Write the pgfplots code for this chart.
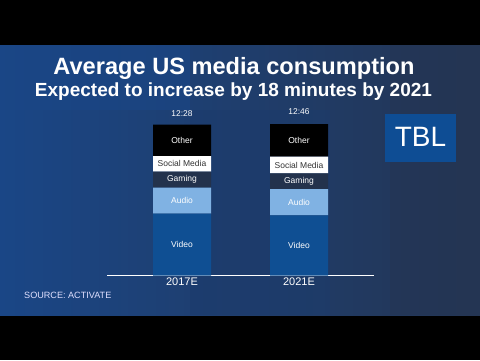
\documentclass[border=0pt]{standalone}
\usepackage{pgfplots}
\pgfplotsset{compat=1.18}
\usepackage{fontspec}
\setmainfont{Liberation Sans}
\definecolor{bgbase}{HTML}{1C3B6C}
\definecolor{bgleft}{HTML}{1A4686}
\definecolor{bgright}{HTML}{243553}
\definecolor{videoc}{HTML}{0F4F93}
\definecolor{audioc}{HTML}{80B2E3}
\definecolor{gamingc}{HTML}{23324C}
\definecolor{tblc}{HTML}{0E4D94}
\definecolor{socialtext}{HTML}{333333}
\begin{document}
\begin{tikzpicture}[x=1pt,y=1pt]
\useasboundingbox (0,0) rectangle (480,360);
\fill[black] (0,0) rectangle (480,360);
\shade[left color=bgleft, right color=bgright] (0,45) rectangle (480,315);
\fill[bgleft, opacity=0.6] (12,250) rectangle (190,315);
\fill[bgbase, opacity=0.5] (190,45) rectangle (330,250);
\fill[bgright, opacity=0.5] (390,45) rectangle (480,315);
% title
\node[anchor=base, text=white, font=\bfseries\fontsize{23.6}{28}\selectfont] at (234,286) {Average US media consumption};
\node[anchor=base, text=white, font=\bfseries\fontsize{19}{23}\selectfont] at (233.5,263.3) {Expected to increase by 18 minutes by 2021};
% TBL box
\fill[tblc] (385,198.3) rectangle (456,246);
\node[anchor=base, text=white, font=\fontsize{28}{32}\selectfont] at (420.5,213.3) {TBL};
% source
\node[anchor=base west, inner sep=0pt, text=white!88!blue, font=\fontsize{9.1}{11}\selectfont] at (24,61.7) {SOURCE: ACTIVATE};
\begin{axis}[
  at={(107pt,84.5pt)}, anchor=south west,
  scale only axis, width=267pt, height=160pt,
  xmin=-0.641, xmax=1.641, ymin=0, ymax=160,
  ybar stacked, bar width=58pt,
  axis x line*=bottom, axis y line=none,
  x axis line style={white, line width=1.8pt},
  xtick={0,1}, xticklabels={2017E,2021E},
  xtick style={draw=none},
  xticklabel style={text=white, font=\fontsize{11}{13}\selectfont, yshift=1pt},
  clip=false,
  every node near coord/.append style={anchor=center, font=\fontsize{8.5}{10}\selectfont},
]
\addplot[fill=videoc, draw=none, nodes near coords={Video}, every node near coord/.append style={text=white}] coordinates {(0,61.8) (1,60.2)};
\addplot[fill=audioc, draw=none, nodes near coords={Audio}, every node near coord/.append style={text=white}] coordinates {(0,26.0) (1,26.3)};
\addplot[fill=gamingc, draw=none, nodes near coords={Gaming}, every node near coord/.append style={text=white}] coordinates {(0,16.0) (1,15.7)};
\addplot[fill=white, draw=none, nodes near coords={Social Media}, every node near coord/.append style={text=socialtext}] coordinates {(0,15.7) (1,16.6)};
\addplot[fill=black, draw=none, nodes near coords={Other}, every node near coord/.append style={text=white}] coordinates {(0,31.3) (1,32.7)};
\node[text=white, font=\fontsize{8.4}{10}\selectfont] at (axis cs:0,162.2) {12:28};
\node[text=white, font=\fontsize{8.4}{10}\selectfont] at (axis cs:1,163.5) {12:46};
\end{axis}
\end{tikzpicture}
\end{document}
